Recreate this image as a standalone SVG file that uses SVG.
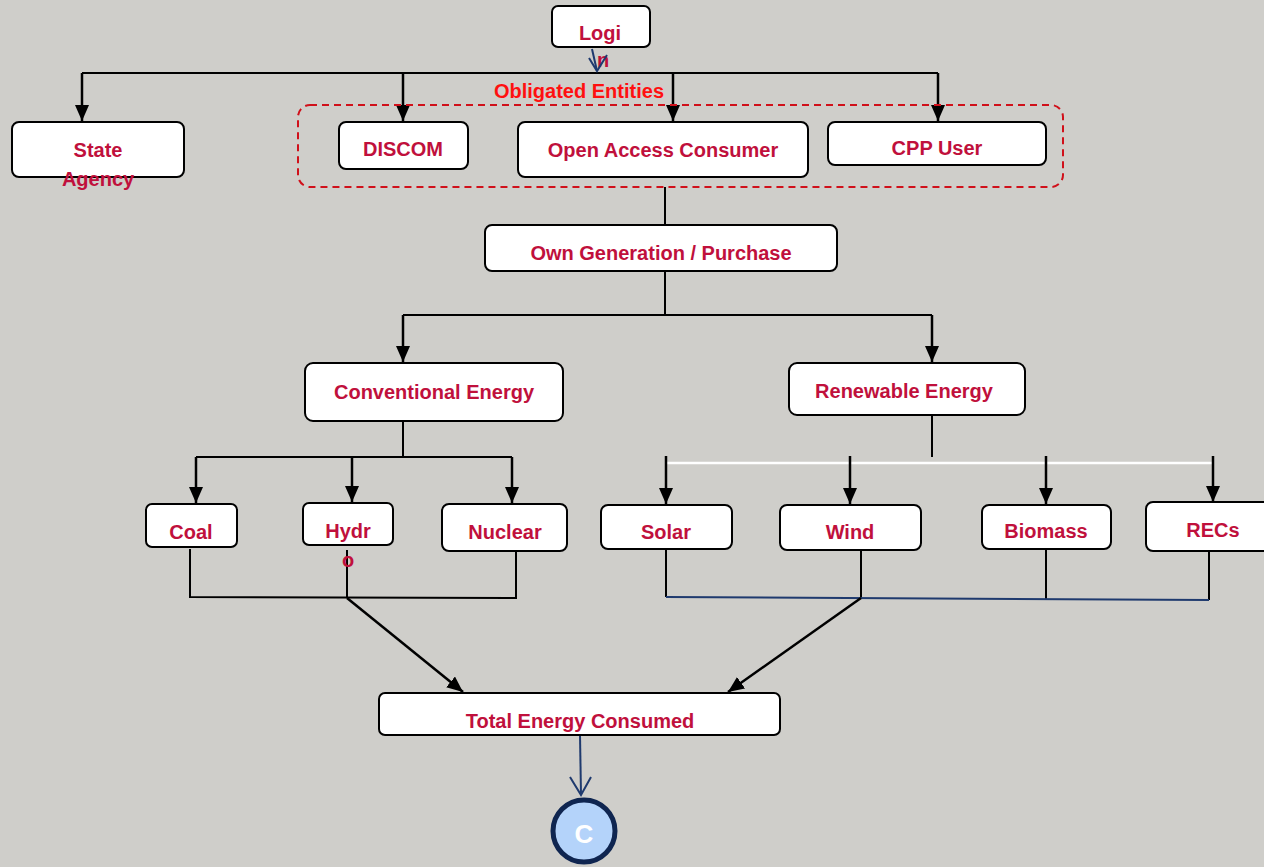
<svg xmlns="http://www.w3.org/2000/svg" width="1264" height="867" viewBox="0 0 1264 867">
<defs>
<marker id="ah" viewBox="0 0 16 14" refX="16" refY="7" markerWidth="16" markerHeight="14" markerUnits="userSpaceOnUse" orient="auto">
<path d="M0,0 L16,7 L0,14 z" fill="#000"/>
</marker>
</defs>
<style>
.box{fill:#fff;stroke:#000;stroke-width:2}
.t{font-family:"Liberation Sans",Arial,sans-serif;font-weight:bold;font-size:20px;fill:#C0103C;text-anchor:middle}
.ln{fill:none;stroke:#000;stroke-width:2}
.ar{fill:none;stroke:#000;stroke-width:2.5;marker-end:url(#ah)}
.nv{fill:none;stroke:#1F3A6E;stroke-width:2}
</style>
<rect x="0" y="0" width="1264" height="867" fill="#CFCECA"/>

<g id="connectors">
<line class="ln" x1="82" y1="73" x2="938" y2="73" stroke-width="2.5"/>
<line class="ar" x1="82" y1="73" x2="82" y2="121"/>
<line class="ar" x1="403" y1="73" x2="403" y2="121"/>
<line class="ar" x1="673" y1="73" x2="673" y2="121"/>
<line class="ar" x1="938" y1="73" x2="938" y2="121"/>
<line class="ln" x1="665" y1="187" x2="665" y2="225"/>
<polyline class="ln" points="665,271 665,315"/>
<line class="ln" x1="403" y1="315" x2="932" y2="315" stroke-width="2.5"/>
<line class="ar" x1="403" y1="315" x2="403" y2="362"/>
<line class="ar" x1="932" y1="315" x2="932" y2="362"/>
<line class="ln" x1="403" y1="409" x2="403" y2="457"/>
<line class="ln" x1="196" y1="457" x2="512" y2="457" stroke-width="2.5"/>
<line class="ar" x1="196" y1="457" x2="196" y2="503"/>
<line class="ar" x1="352" y1="457" x2="352" y2="502"/>
<line class="ar" x1="512" y1="457" x2="512" y2="503"/>
<line class="ln" x1="932" y1="410" x2="932" y2="457"/>
<line x1="666" y1="463" x2="1213" y2="463" stroke="#fff" stroke-width="2.5"/>
<line class="ar" x1="666" y1="456" x2="666" y2="504"/>
<line class="ar" x1="850" y1="456" x2="850" y2="504"/>
<line class="ar" x1="1046" y1="456" x2="1046" y2="504"/>
<line class="ar" x1="1213" y1="456" x2="1213" y2="502"/>
<polyline class="ln" points="190,549 190,597 516,598 516,550"/>
<line class="ln" x1="347" y1="550" x2="347" y2="598"/>
<line class="ar" x1="347" y1="598" x2="463" y2="692"/>
<line class="ln" x1="666" y1="550" x2="666" y2="597"/>
<line class="ln" x1="861" y1="550" x2="861" y2="598"/>
<line class="ln" x1="1046" y1="550" x2="1046" y2="599"/>
<line class="ln" x1="1209" y1="552" x2="1209" y2="600"/>
<line class="nv" x1="666" y1="597" x2="1209" y2="600"/>
<line class="ar" x1="861" y1="598" x2="728" y2="692"/>
<line class="nv" x1="580" y1="735" x2="581" y2="795"/>
<polyline class="nv" points="570,777 581,795 591,777"/>
</g>

<g id="login">
<rect class="box" x="552" y="6" width="98" height="41" rx="6"/>
<text class="t" x="600" y="40">Logi</text>
<text class="t" x="603" y="67">n</text>
<line class="nv" x1="592" y1="49" x2="597" y2="71"/>
<polyline class="nv" points="589,58 597,71 607,55"/>
</g>

<g id="obligated">
<rect x="298" y="105" width="765" height="82" rx="12" fill="none" stroke="#D0101A" stroke-width="2" stroke-dasharray="7 5"/>
<text x="579" y="98" font-family="Liberation Sans,Arial,sans-serif" font-weight="bold" font-size="20" fill="#FF1010" text-anchor="middle">Obligated Entities</text>
</g>

<g id="state-agency">
<rect class="box" x="12" y="122" width="172" height="55" rx="7"/>
<text class="t" x="98" y="157">State</text>
<text class="t" x="98" y="186">Agency</text>
</g>
<g id="discom">
<rect class="box" x="339" y="122" width="129" height="47" rx="7"/>
<text class="t" x="403" y="156">DISCOM</text>
</g>
<g id="open-access">
<rect class="box" x="518" y="122" width="290" height="55" rx="7"/>
<text class="t" x="663" y="157">Open Access Consumer</text>
</g>
<g id="cpp-user">
<rect class="box" x="828" y="122" width="218" height="43" rx="7"/>
<text class="t" x="937" y="155">CPP User</text>
</g>
<g id="own-gen">
<rect class="box" x="485" y="225" width="352" height="46" rx="7"/>
<text class="t" x="661" y="260">Own Generation / Purchase</text>
</g>
<g id="conventional">
<rect class="box" x="305" y="363" width="258" height="58" rx="8"/>
<text class="t" x="434" y="399">Conventional Energy</text>
</g>
<g id="renewable">
<rect class="box" x="789" y="363" width="236" height="52" rx="8"/>
<text class="t" x="904" y="398">Renewable Energy</text>
</g>
<g id="coal">
<rect class="box" x="146" y="504" width="91" height="43" rx="6"/>
<text class="t" x="191" y="539">Coal</text>
</g>
<g id="hydro">
<rect class="box" x="303" y="503" width="90" height="42" rx="6"/>
<text class="t" x="348" y="538">Hydr</text>
<text class="t" x="348" y="567">o</text>
</g>
<g id="nuclear">
<rect class="box" x="442" y="504" width="125" height="47" rx="7"/>
<text class="t" x="505" y="539">Nuclear</text>
</g>
<g id="solar">
<rect class="box" x="601" y="505" width="131" height="44" rx="7"/>
<text class="t" x="666" y="539">Solar</text>
</g>
<g id="wind">
<rect class="box" x="780" y="505" width="141" height="45" rx="7"/>
<text class="t" x="850" y="539">Wind</text>
</g>
<g id="biomass">
<rect class="box" x="982" y="505" width="129" height="44" rx="7"/>
<text class="t" x="1046" y="538">Biomass</text>
</g>
<g id="recs">
<rect class="box" x="1146" y="502" width="130" height="49" rx="7"/>
<text class="t" x="1213" y="537">RECs</text>
</g>
<g id="total">
<rect class="box" x="379" y="693" width="401" height="42" rx="6"/>
<text class="t" x="580" y="728">Total Energy Consumed</text>
</g>
<g id="connector-c">
<circle cx="584" cy="831" r="31" fill="#B4D3FA" stroke="#0F2550" stroke-width="5"/>
<text x="584" y="843" font-family="Liberation Sans,Arial,sans-serif" font-weight="bold" font-size="26" fill="#fff" text-anchor="middle">C</text>
</g>
</svg>
